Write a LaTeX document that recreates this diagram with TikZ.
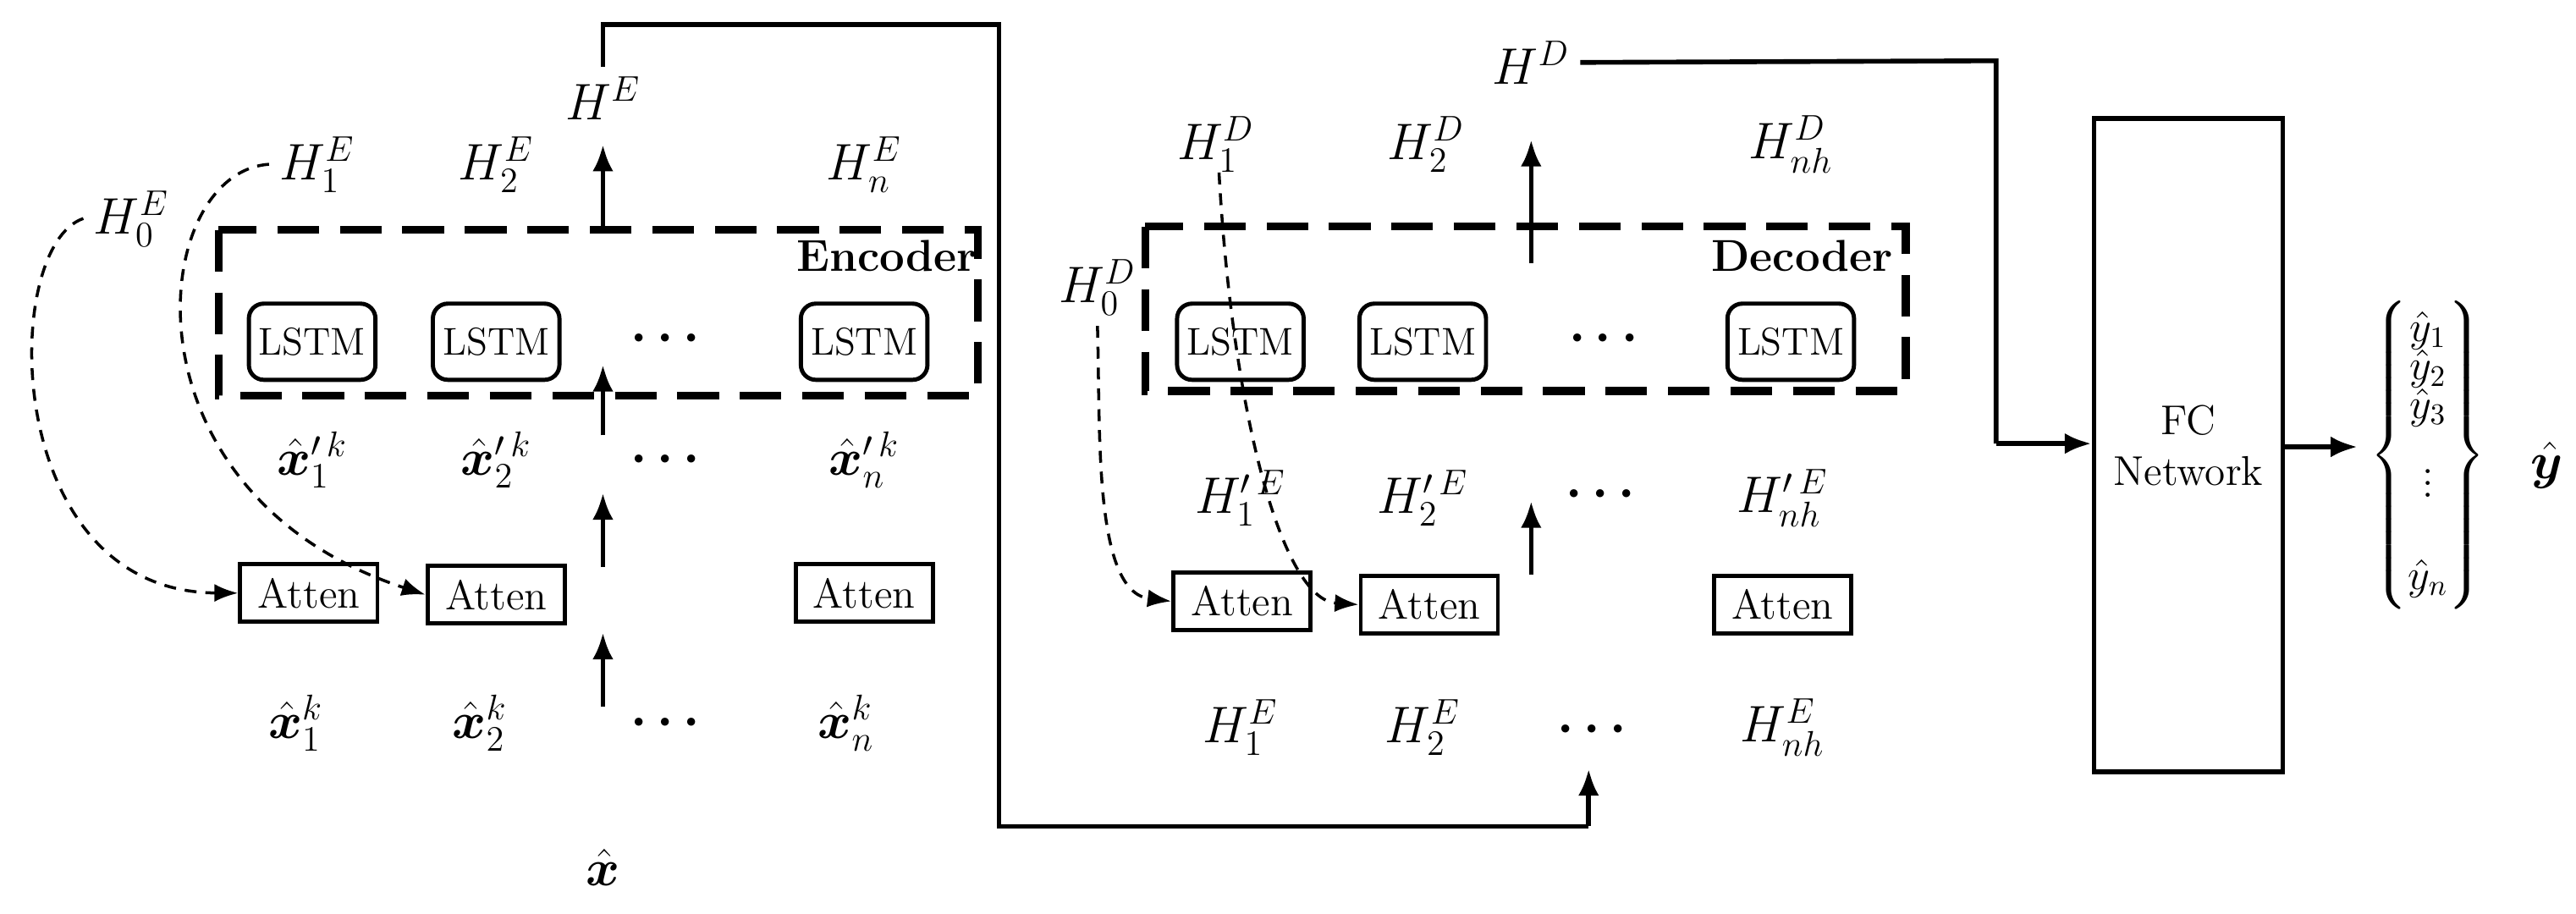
\documentclass[tikz,border=0pt]{standalone}
\usepackage{amsmath,bm}
\usetikzlibrary{arrows.meta}
\begin{document}
\begin{tikzpicture}[x=0.01941cm,y=-0.01941cm,
 lstm/.style={draw,line width=1.4pt,rounded corners=5pt,minimum width=1.45cm,minimum height=0.9cm,font=\fontsize{13}{16}\selectfont},
 att/.style={draw,line width=1.4pt,minimum width=1.62cm,minimum height=0.68cm,font=\fontsize{14}{17}\selectfont},
 lab/.style={font=\fontsize{17}{20}\selectfont},
 dots/.style={font=\fontsize{17}{20}\selectfont},
 dbox/.style={draw,line width=2.6pt,dash pattern=on 14pt off 7pt},
 arr/.style={line width=1.6pt,-{Latex[length=9pt,width=7pt]}},
 ln/.style={line width=1.6pt},
 dsh/.style={line width=1pt,dash pattern=on 4pt off 3pt,-{Latex[length=8pt,width=6pt]}}]
\useasboundingbox (0,0) rectangle (1568,556);
% encoder
\draw[dbox] (133,140) rectangle (595,241);
\node[font=\fontsize{15}{18}\selectfont\bfseries] (enc) at (540,156) {Encoder};
\node[lstm] (l1) at (190,208) {LSTM};
\node[lstm] (l2) at (302,208) {LSTM};
\node[dots] (ld) at (408,206) {$\bm{\cdots}$};
\node[lstm] (ln) at (526,208) {LSTM};
\node[lab] (h0e) at (80,133) {$H_0^E$};
\node[lab] (h1e) at (193,100) {$H_1^E$};
\node[lab] (h2e) at (302,100) {$H_2^E$};
\node[lab] (he) at (367,60) {$H^E$};
\node[lab] (hne) at (526,100) {$H_n^E$};
\coordinate (a1) at (367,140); \coordinate (a1e) at (367,88);
\draw[arr] (a1) -- (a1e);
\coordinate (a2) at (367,265); \coordinate (a2e) at (367,222);
\draw[arr] (a2) -- (a2e);
\node[lab] (xp1) at (190,280) {$\hat{\bm x}'^{\,k}_1$};
\node[lab] (xp2) at (302,280) {$\hat{\bm x}'^{\,k}_2$};
\node[dots] (xpd) at (408,280) {$\bm{\cdots}$};
\node[lab] (xpn) at (526,280) {$\hat{\bm x}'^{\,k}_n$};
\coordinate (a3) at (367,345); \coordinate (a3e) at (367,300);
\draw[arr] (a3) -- (a3e);
\node[att] (t1) at (188,361) {Atten};
\node[att] (t2) at (302,362) {Atten};
\node[att] (tn) at (526,361) {Atten};
\coordinate (a4) at (367,430); \coordinate (a4e) at (367,385);
\draw[arr] (a4) -- (a4e);
\node[lab] (x1) at (180,440) {$\hat{\bm x}^k_1$};
\node[lab] (x2) at (292,440) {$\hat{\bm x}^k_2$};
\node[dots] (xd) at (408,440) {$\bm{\cdots}$};
\node[lab] (xn) at (515,440) {$\hat{\bm x}^k_n$};
\node[lab] (xh) at (367,528) {$\hat{\bm x}$};
\draw[dsh] (h0e.west) .. controls (0,150) and (0,360) .. (t1.west);
\draw[dsh] (h1e.west) .. controls (90,105) and (70,300) .. (t2.west);
% link
\coordinate (c2) at (608,15); \coordinate (c3) at (608,503); \coordinate (c4) at (967,503); \coordinate (c5) at (967,468);
\draw[ln] (he.north) |- (c2) -- (c3) -- (c4);
\draw[arr] (c4) -- (c5);
% decoder
\draw[dbox] (697,138) rectangle (1160,238);
\node[font=\fontsize{15}{18}\selectfont\bfseries] (dec) at (1097,156) {Decoder};
\node[lstm] (m1) at (755,208) {LSTM};
\node[lstm] (m2) at (866,208) {LSTM};
\node[dots] (md) at (979,206) {$\bm{\cdots}$};
\node[lstm] (mn) at (1090,208) {LSTM};
\node[lab] (h0d) at (668,175) {$H_0^D$};
\node[lab] (h1d) at (740,88) {$H_1^D$};
\node[lab] (h2d) at (868,88) {$H_2^D$};
\node[lab] (hd) at (932,38) {$H^D$};
\node[lab] (hnd) at (1090,88) {$H_{nh}^D$};
\coordinate (b1) at (932,160); \coordinate (b1e) at (932,85);
\draw[arr] (b1) -- (b1e);
\node[lab] (hp1) at (755,303) {$H'^{\,E}_1$};
\node[lab] (hp2) at (866,303) {$H'^{\,E}_2$};
\node[dots] (hpd) at (977,301) {$\bm{\cdots}$};
\node[lab] (hpn) at (1085,303) {$H'^{\,E}_{nh}$};
\coordinate (b2) at (932,350); \coordinate (b2e) at (932,305);
\draw[arr] (b2) -- (b2e);
\node[att] (u1) at (756,366) {Atten};
\node[att] (u2) at (870,368) {Atten};
\node[att] (un) at (1085,368) {Atten};
\node[lab] (e1) at (755,443) {$H_1^E$};
\node[lab] (e2) at (866,443) {$H_2^E$};
\node[dots] (ed) at (972,444) {$\bm{\cdots}$};
\node[lab] (en) at (1085,443) {$H_{nh}^E$};
\draw[dsh] (h0d.south) .. controls (670,260) and (665,360) .. (u1.west);
\draw[dsh] (742,105) .. controls (750,250) and (780,365) .. (u2.west);
% FC
\node[draw,line width=1.6pt,minimum width=2.23cm,minimum height=7.72cm,align=center,font=\fontsize{14}{17}\selectfont] (fc) at (1332,271) {FC\\Network};
\coordinate (d1) at (1215,37); \coordinate (d2) at (1215,270);
\draw[ln] (hd.east) -- (d1) -- (d2);
\draw[arr] (d2) -- (d2 -| fc.west);
\coordinate (f2) at (1435,272);
\draw[arr] (fc.east |- f2) -- (f2);
\node[font=\fontsize{14}{17}\selectfont] (ys) at (1478,277) {$\left\{\begin{matrix}\hat y_1\\[-4pt]\hat y_2\\[-4pt]\hat y_3\\[6pt] \vdots\\[14pt] \hat y_n\end{matrix}\right\}$};
\node[lab] (y) at (1550,283) {$\hat{\bm y}$};
\end{tikzpicture}
\end{document}
